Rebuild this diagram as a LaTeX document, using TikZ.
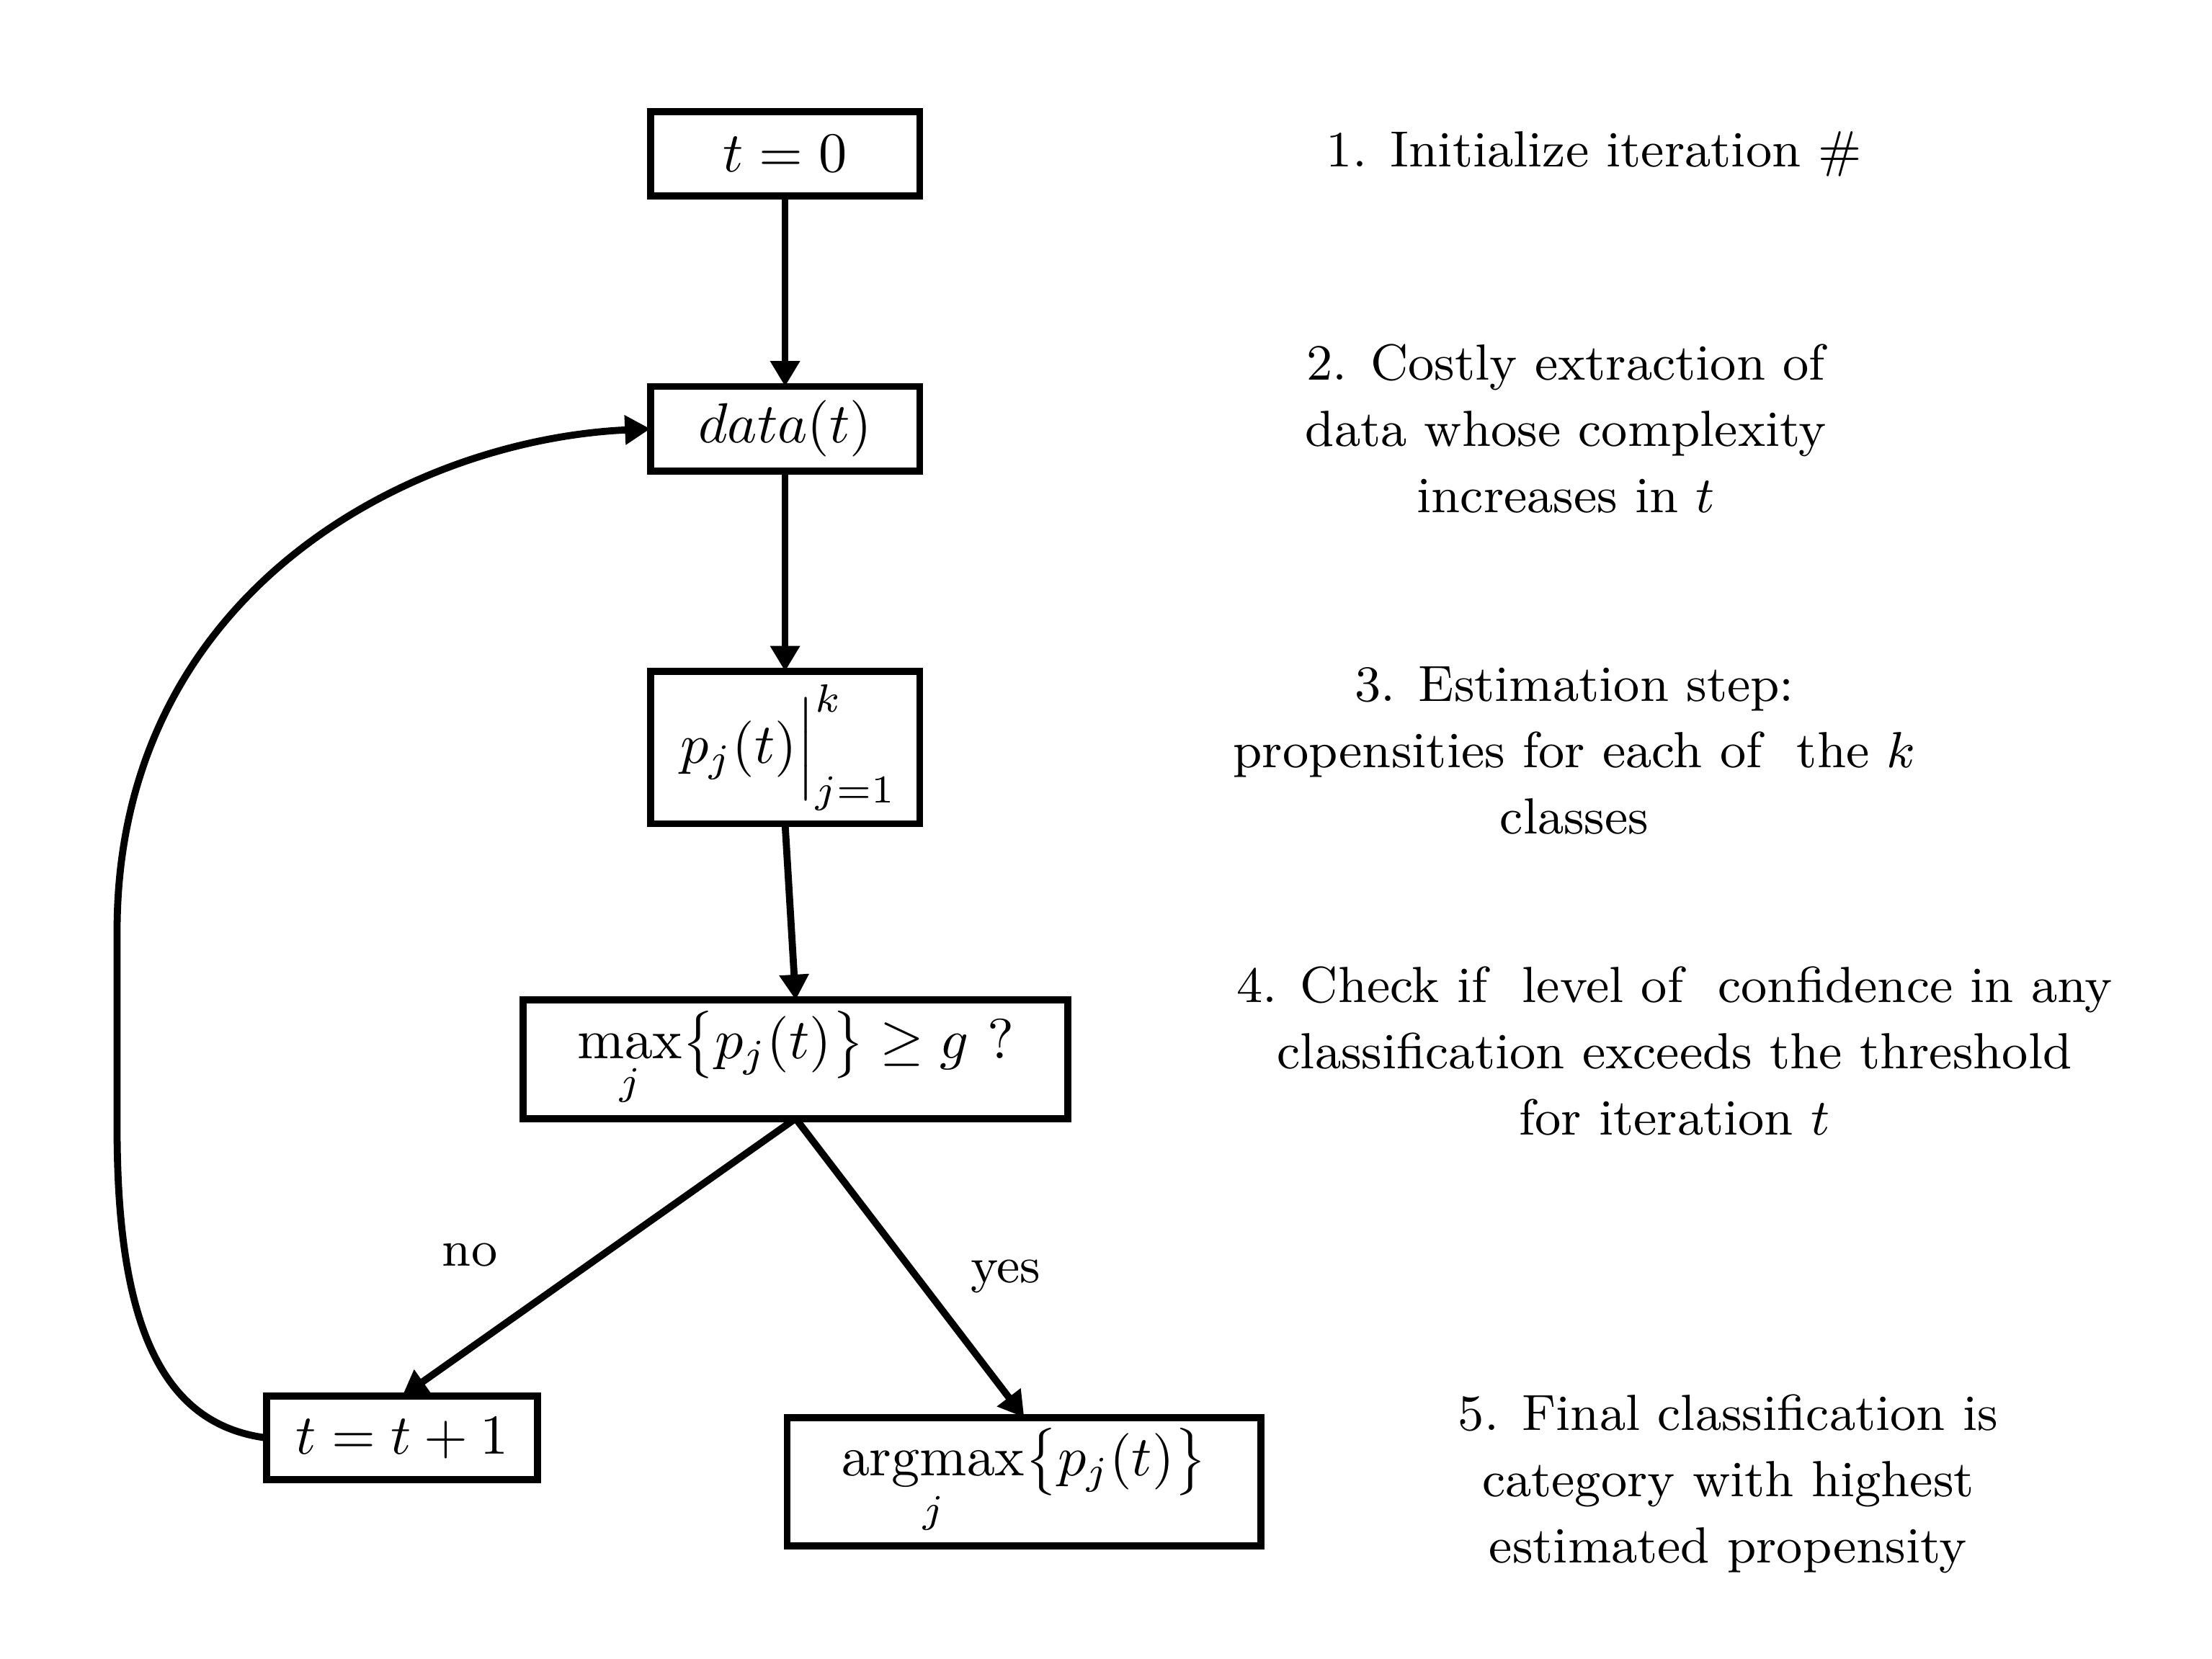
\documentclass[tikz,border=0pt]{standalone}
\usepackage{amsmath}
\usetikzlibrary{arrows.meta}
\begin{document}
\begin{tikzpicture}[x=0.25pt,y=-0.25pt,scale=4,
  every node/.append style={transform shape},
  box/.style={draw, line width=5pt, inner sep=0pt, outer sep=0pt, font=\fontsize{10}{12}\selectfont},
  conn/.style={line width=5pt, -{Triangle[length=18pt,width=20pt]}},
  note/.style={align=center, font=\fontsize{9}{11.75}\selectfont, inner sep=0pt},
  lab/.style={font=\fontsize{9}{11.75}\selectfont, inner sep=0pt}]
\useasboundingbox (0,0) rectangle (1568,1176);
\node[box, minimum width=47.75pt, minimum height=15pt] (t0) at (556.5,109) {$t = 0$};
\node[box, minimum width=47.75pt, minimum height=15pt] (data) at (556.5,304) {$data(t)$};
\node[box, minimum width=47.75pt, minimum height=27pt] (pj) at (556.5,530) {$\left. p_j(t)\vphantom{\Big|}\right|_{j=1}^{k}$};
\node[box, minimum width=96.5pt, minimum height=21pt] (mx) at (564,751) {$\displaystyle\max_j\bigl\{p_j(t)\bigr\} \geq g$ ?};
\node[box, minimum width=48pt, minimum height=14.75pt] (tinc) at (285,1019.5) {$t = t + 1$};
\node[box, minimum width=84pt, minimum height=22.75pt] (amax) at (726,1050.5) {$\displaystyle\operatorname*{argmax}_j\bigl\{p_j(t)\bigr\}$};

\draw[conn] (t0) -- (data);
\draw[conn] (data) -- (pj);
\draw[conn] (pj.south) -- (mx.north);
\draw[conn] (mx.south) -- (tinc.north);
\draw[conn] (mx.south) -- (amax.north);
\draw[conn] (tinc.west) .. controls (115,1010) and (83,940) .. (83,800) -- (83,660) .. controls (83,420) and (290,312) .. (data.west);

\node[lab] (no) at (333,890) {no};
\node[lab] (yes) at (713,905) {yes};

\node[note] (s1) at (1130,109) {1. Initialize iteration \#};
\node[note] (s2) at (1110,304) {2. Costly extraction of\\ data whose complexity\\ increases in $t$};
\node[note] (s3) at (1116,532) {3. Estimation step:\\ propensities for each of\ \ the $k$\\ classes};
\node[note] (s4) at (1187,745) {4. Check if\ \ level of\ \ confidence in any\\ classification exceeds the threshold\\ for iteration $t$};
\node[note] (s5) at (1225,1052) {5. Final classification is\\ category with highest\\ estimated propensity};
\end{tikzpicture}
\end{document}
